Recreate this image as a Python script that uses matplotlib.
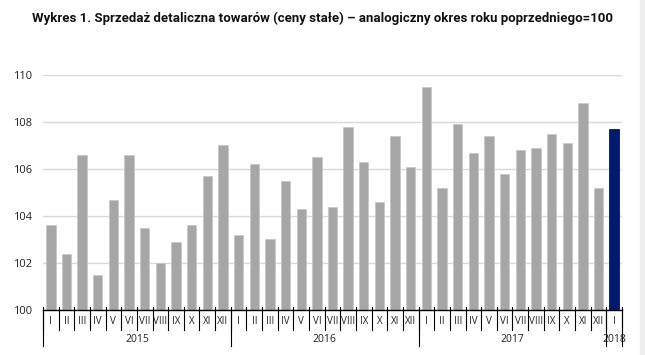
import matplotlib.pyplot as plt

plt.rcParams['font.family'] = ['Open Sans', 'DejaVu Sans']

months = ['I', 'II', 'III', 'IV', 'V', 'VI', 'VII', 'VIII', 'IX', 'X', 'XI', 'XII'] * 3 + ['I']
years = ['2015', '2016', '2017', '2018']
values = [103.6, 102.4, 106.6, 101.5, 104.7, 106.6, 103.5, 102.0, 102.9, 103.6, 105.7, 107.0,
          103.2, 106.2, 103.0, 105.5, 104.3, 106.5, 104.4, 107.8, 106.3, 104.6, 107.4, 106.1,
          109.5, 105.2, 107.9, 106.7, 107.4, 105.8, 106.8, 106.9, 107.5, 107.1, 108.8, 105.2,
          107.7]

fig = plt.figure(figsize=(6.45, 3.55), dpi=100)
ax = fig.add_axes([43/645, 1 - 310/355, 579/645, 235/355])

x = list(range(len(values)))
colors = ['#a6a6a6'] * (len(values) - 1) + ['#001a70']
ax.bar(x, [v - 100 for v in values], bottom=100, width=0.6, color=colors,
       edgecolor=['#c8c8c8'] * (len(values) - 1) + ['#001a70'], linewidth=0.6, zorder=3)

ax.set_xlim(-0.5, len(values) - 0.5)
ax.set_ylim(100, 110)
ax.set_yticks([100, 102, 104, 106, 108, 110])
ax.tick_params(axis='y', length=0, pad=8, labelsize=8, labelcolor='#222222')
ax.grid(axis='y', color='#d9d9d9', linewidth=1, zorder=0)
ax.set_xticks([])
for s in ['top', 'right', 'left']:
    ax.spines[s].set_visible(False)
ax.spines['bottom'].set_color('black')
ax.spines['bottom'].set_linewidth(1)
ax.spines['bottom'].set_zorder(4)

tr = ax.get_xaxis_transform()
h = 235.0
# month separators
for i in range(len(values) + 1):
    ax.plot([i - 0.5, i - 0.5], [3/h, -20/h], color='black', lw=0.8, transform=tr, clip_on=False)
for i, m in enumerate(months):
    ax.text(i, -12/h, m, transform=tr, ha='center', va='center', fontsize=7, color='#222222')
# year separators
for b in [0, 12, 24, 36, 37]:
    ax.plot([b - 0.5, b - 0.5], [0, -36/h], color='black', lw=0.8, transform=tr, clip_on=False)
year_pos = [5.5, 17.5, 29.5, 36]
for p, y in zip(year_pos, years):
    ax.text(p, -30/h, y, transform=tr, ha='center', va='center', fontsize=7.5, color='#222222')

fig.text(0.5, 1 - 18/355, 'Wykres 1. Sprzedaż detaliczna towarów (ceny stałe) – analogiczny okres roku poprzedniego=100',
         ha='center', va='center', fontsize=9.5, fontweight='bold', family=['Roboto', 'DejaVu Sans'],
         color='#111111')

fig.patches.append(plt.Rectangle((640/645, 0), 5/645, 1, transform=fig.transFigure,
                                 color='#eeeeee', zorder=0))

fig.savefig('out.png', dpi=100)
